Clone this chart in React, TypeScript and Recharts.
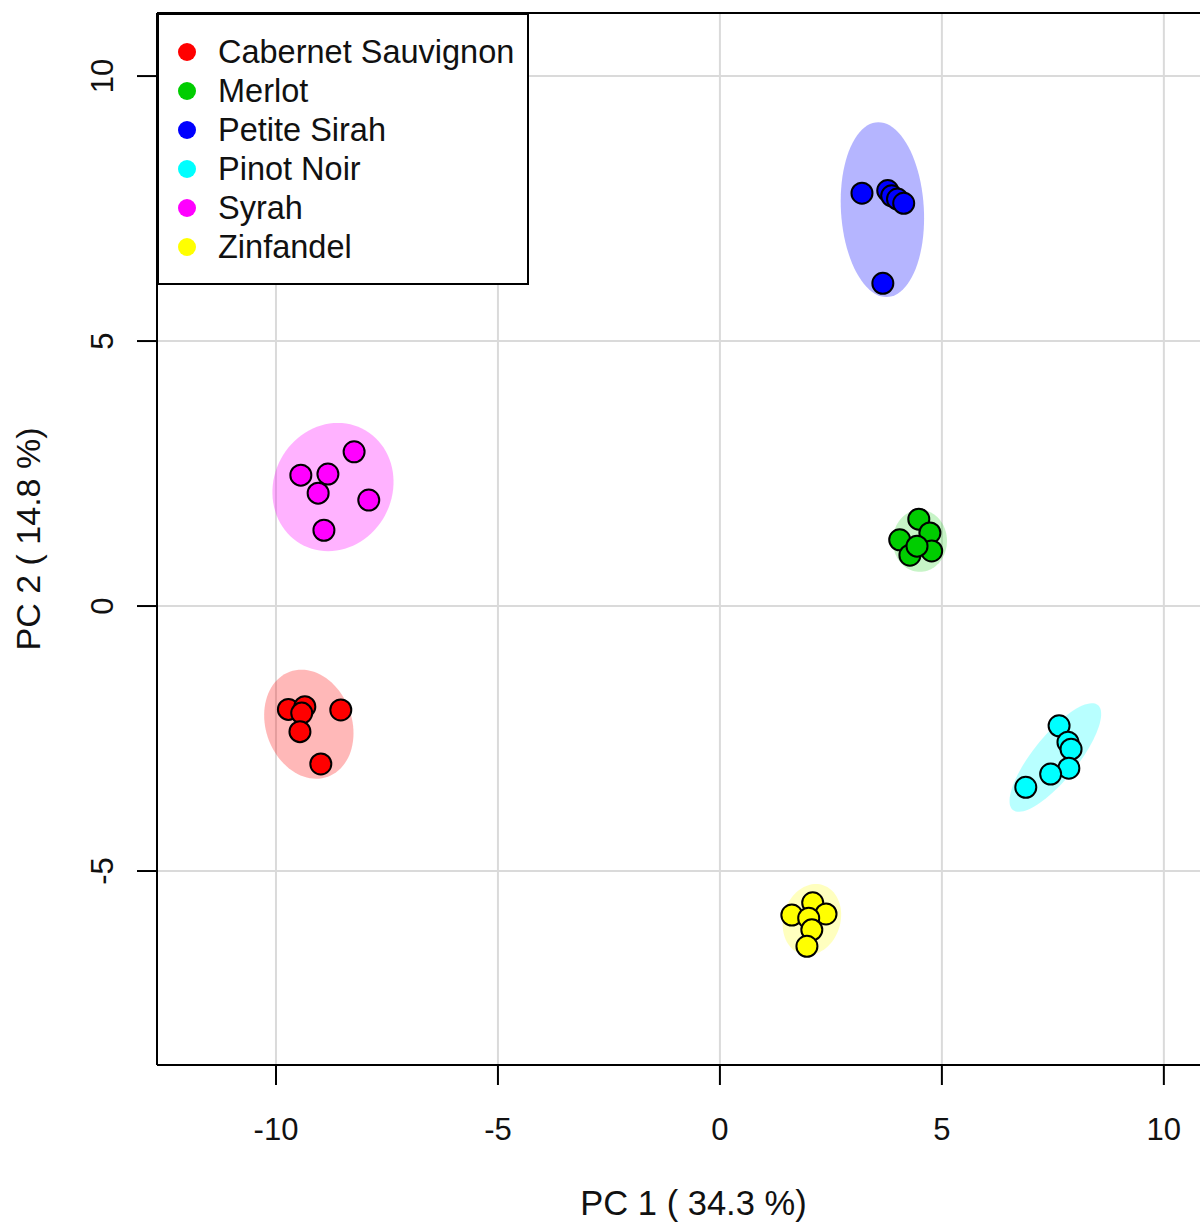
import { ScatterChart, Scatter, XAxis, YAxis, CartesianGrid, Legend, ReferenceLine, Label } from 'recharts';

// PCA score plot of wine samples, PC1 vs PC2

const VARIETIES = ['Cabernet Sauvignon', 'Merlot', 'Petite Sirah', 'Pinot Noir', 'Syrah', 'Zinfandel'];
const COLORS = ['#FF0000', '#00CD00', '#0000FF', '#00FFFF', '#FF00FF', '#FFFF00'];
const ELLIPSE_ALPHA = [0.28, 0.22, 0.29, 0.28, 0.3, 0.25];

// sample scores [PC1, PC2]
const cabernet = [[-9.72, -1.95], [-9.35, -1.9], [-9.42, -2.02], [-9.46, -2.37], [-8.54, -1.96], [-8.99, -2.98]];
const merlot = [[4.48, 1.64], [4.05, 1.25], [4.73, 1.38], [4.28, 0.96], [4.77, 1.04], [4.44, 1.13]];
const petiteSirah = [[3.2, 7.79], [3.78, 7.84], [3.87, 7.74], [4.0, 7.68], [4.14, 7.6], [3.67, 6.09]];
const pinotNoir = [[7.64, -2.26], [7.84, -2.57], [7.91, -2.7], [7.86, -3.06], [7.45, -3.17], [6.89, -3.42]];
const syrah = [[-8.24, 2.91], [-9.44, 2.47], [-8.83, 2.49], [-9.05, 2.13], [-7.91, 2.0], [-8.92, 1.43]];
const zinfandel = [[1.62, -5.83], [2.09, -5.6], [2.39, -5.81], [2.0, -5.89], [2.07, -6.11], [1.96, -6.42]];

// group ellipses: [centre PC1, centre PC2, axis1 dPC1, axis1 dPC2, axis2 dPC1, axis2 dPC2]
const cabernetEllipse = [-9.26, -2.23, -0.43, 0.99, 0.91, 0.28];
const merlotEllipse = [4.505, 1.23, 0, 0.585, 0.61, 0];
const petiteSirahEllipse = [3.66, 7.48, -0.09, 1.65, 0.935, 0];
const pinotNoirEllipse = [7.556, -2.858, 0.957, 0.991, 0.387, -0.262];
const syrahEllipse = [-8.716, 2.245, 0.11, 1.21, 1.36, 0];
const zinfandelEllipse = [2.072, -5.915, 0.09, 0.67, 0.653, 0];

const X_TICKS = [-10, -5, 0, 5, 10];
const Y_TICKS = [-5, 0, 5, 10];
const X_DOMAIN = [-12.68, 11.49];
const Y_DOMAIN = [-8.66, 11.19];

const SERIES = [cabernet, merlot, petiteSirah, pinotNoir, syrah, zinfandel];
const ELLIPSES = [cabernetEllipse, merlotEllipse, petiteSirahEllipse, pinotNoirEllipse, syrahEllipse, zinfandelEllipse];

const FONT = '"Liberation Sans", Arial, Helvetica, sans-serif';

const toPoints = (rows: number[][]) => rows.map(([x, y]) => ({ x, y }));

function ellipseOutline(e: number[]) {
  const [cx, cy, ux, uy, vx, vy] = e;
  const pts = [];
  const steps = 90;
  for (let i = 0; i <= steps; i++) {
    const t = (2 * Math.PI * i) / steps;
    pts.push({ x: cx + ux * Math.cos(t) + vx * Math.sin(t), y: cy + uy * Math.cos(t) + vy * Math.sin(t) });
  }
  return pts;
}

function hexToRgba(hex: string, a: number) {
  const n = parseInt(hex.slice(1), 16);
  return `rgba(${(n >> 16) & 255}, ${(n >> 8) & 255}, ${n & 255}, ${a})`;
}

const dotShape = (color: string) => (props: any) => (
  <circle cx={props.cx} cy={props.cy} r={10.5} fill={color} stroke="#000" strokeWidth={2} />
);

const XTick = ({ x, y, payload }: any) => (
  <text x={x} y={y} dy={53} textAnchor="middle" fontSize={31} fontFamily={FONT} fill="#111">
    {payload.value}
  </text>
);

const YTick = ({ x, y, payload }: any) => {
  const tx = x - 22;
  return (
    <text x={tx} y={y} transform={`rotate(-90, ${tx}, ${y})`} textAnchor="middle" fontSize={31} fontFamily={FONT} fill="#111">
      {payload.value}
    </text>
  );
};

const XTitle = ({ viewBox }: any) => (
  <text x={viewBox.x + viewBox.width / 2} y={viewBox.y + 150} textAnchor="middle" fontSize={34.5} fontFamily={FONT} fill="#111">
    PC 1 ( 34.3 %)
  </text>
);

const YTitle = ({ viewBox }: any) => {
  const cx = viewBox.x + 40;
  const cy = viewBox.y + viewBox.height / 2;
  return (
    <text x={cx} y={cy} transform={`rotate(-90, ${cx}, ${cy})`} textAnchor="middle" fontSize={34} fontFamily={FONT} fill="#111">
      PC 2 ( 14.8 %)
    </text>
  );
};

const renderLegend = () => (
  <div
    style={{
      width: 372,
      height: 272,
      boxSizing: 'border-box',
      border: '2px solid #000',
      background: '#fff',
      paddingTop: 17.5,
      fontFamily: FONT,
      fontSize: 32.5,
      color: '#111',
    }}
  >
    {VARIETIES.map((name, i) => (
      <div key={name} style={{ display: 'flex', alignItems: 'center', height: 39, lineHeight: '39px', whiteSpace: 'nowrap' }}>
        <span
          style={{
            width: 18,
            height: 18,
            borderRadius: '50%',
            background: COLORS[i],
            marginLeft: 19,
            marginRight: 22,
            flex: 'none',
          }}
        />
        <span>{name}</span>
      </div>
    ))}
  </div>
);

export default function App() {
  return (
    <div style={{ position: 'absolute', left: 0, top: 0, width: 1200, height: 1226, overflow: 'hidden', background: '#fff' }}>
      <ScatterChart width={1240} height={1226} margin={{ top: 13, right: 10, left: 0, bottom: 0 }}>
        <CartesianGrid stroke="#dadada" strokeWidth={2} />
        <XAxis
          type="number"
          dataKey="x"
          domain={X_DOMAIN}
          ticks={X_TICKS}
          allowDataOverflow
          height={161}
          tickSize={20}
          tick={<XTick />}
          axisLine={{ stroke: '#000', strokeWidth: 2 }}
          tickLine={{ stroke: '#000', strokeWidth: 2 }}
        >
          <Label content={XTitle} />
        </XAxis>
        <YAxis
          type="number"
          dataKey="y"
          domain={Y_DOMAIN}
          ticks={Y_TICKS}
          allowDataOverflow
          width={157}
          tickSize={20}
          tick={<YTick />}
          axisLine={{ stroke: '#000', strokeWidth: 2 }}
          tickLine={{ stroke: '#000', strokeWidth: 2 }}
        >
          <Label content={YTitle} />
        </YAxis>
        <ReferenceLine y={Y_DOMAIN[1]} stroke="#000" strokeWidth={2} />
        {ELLIPSES.map((e, i) => (
          <Scatter
            key={`ell-${i}`}
            data={ellipseOutline(e)}
            fill={hexToRgba(COLORS[i], ELLIPSE_ALPHA[i])}
            line={{ fill: hexToRgba(COLORS[i], ELLIPSE_ALPHA[i]), stroke: 'none' }}
            lineType="joint"
            shape={() => <g />}
            legendType="none"
            isAnimationActive={false}
          />
        ))}
        {SERIES.map((rows, i) => (
          <Scatter
            key={VARIETIES[i]}
            name={VARIETIES[i]}
            data={toPoints(rows)}
            fill={COLORS[i]}
            shape={dotShape(COLORS[i])}
            isAnimationActive={false}
          />
        ))}
        <Legend
          layout="vertical"
          align="center"
          verticalAlign="middle"
          content={renderLegend}
          wrapperStyle={{ left: 157, top: 13, width: 372 }}
        />
      </ScatterChart>
    </div>
  );
}
